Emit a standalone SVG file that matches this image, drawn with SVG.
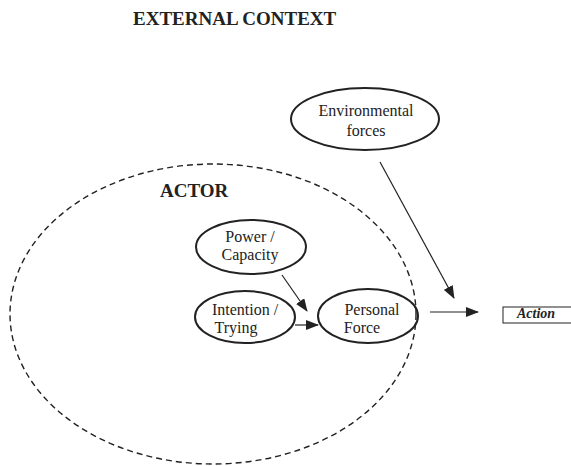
<svg xmlns="http://www.w3.org/2000/svg" width="571" height="466" viewBox="0 0 571 466">
<style>
.title{font-family:"Liberation Serif",serif;font-weight:bold;font-size:19px;fill:#222}
.lbl{font-family:"Liberation Serif",serif;font-size:16px;fill:#222;text-anchor:middle}
.node{fill:none;stroke:#222;stroke-width:2}
.conn{stroke:#222;stroke-width:1.2;fill:none}
</style>
<defs>
<marker id="ah" markerWidth="13" markerHeight="10" refX="12" refY="5" orient="auto" markerUnits="userSpaceOnUse">
<path d="M0,0 L13,5 L0,10 Z" fill="#222"/>
</marker>
</defs>
<rect width="571" height="466" fill="#fff"/>
<text class="title" x="133" y="25">EXTERNAL CONTEXT</text>
<g id="actor">
<ellipse cx="213" cy="314" rx="203" ry="150" fill="none" stroke="#222" stroke-width="1.4" stroke-dasharray="6,4"/>
<text class="title" x="160" y="197">ACTOR</text>
</g>
<g id="environmental">
<ellipse class="node" cx="365" cy="119" rx="74" ry="31"/>
<text class="lbl" x="366" y="116">Environmental</text>
<text class="lbl" x="366" y="136">forces</text>
</g>
<g id="power">
<ellipse class="node" cx="251" cy="247" rx="55" ry="27"/>
<text class="lbl" x="250" y="242">Power /</text>
<text class="lbl" x="250" y="260">Capacity</text>
</g>
<g id="intention">
<ellipse class="node" cx="245" cy="317" rx="50" ry="26"/>
<text class="lbl" x="245" y="315">Intention /</text>
<text class="lbl" x="236" y="333">Trying</text>
</g>
<g id="personal">
<ellipse class="node" cx="368" cy="316" rx="50" ry="27"/>
<text class="lbl" x="372" y="315">Personal</text>
<text class="lbl" x="362" y="333">Force</text>
</g>
<g id="action">
<rect x="503" y="307" width="80" height="16" fill="none" stroke="#222" stroke-width="1"/>
<text x="517" y="318" font-family="'Liberation Serif',serif" font-size="14" font-weight="bold" font-style="italic" fill="#222">Action</text>
</g>
<g id="connectors">
<line class="conn" x1="295" y1="325" x2="318" y2="325" marker-end="url(#ah)"/>
<line class="conn" x1="282" y1="275" x2="307" y2="311" marker-end="url(#ah)"/>
<line class="conn" x1="380" y1="162" x2="454" y2="298" marker-end="url(#ah)"/>
<line class="conn" x1="430" y1="312" x2="478" y2="312" marker-end="url(#ah)"/>
</g>
</svg>
